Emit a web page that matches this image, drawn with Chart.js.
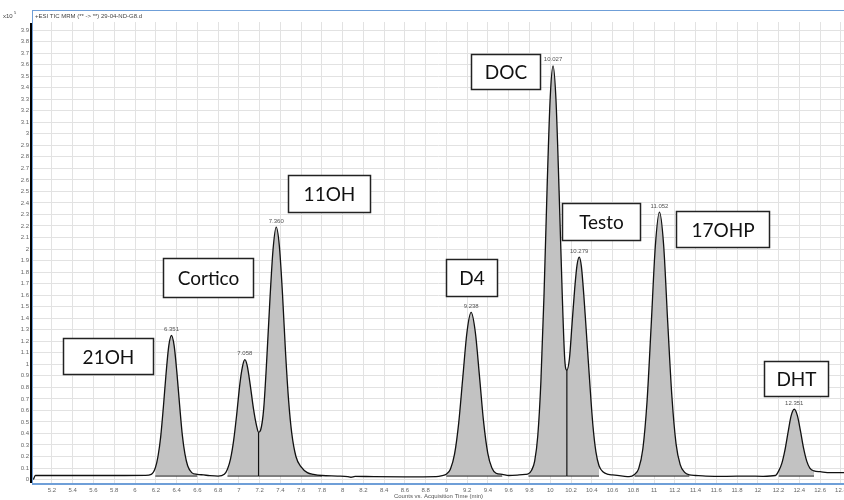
<!DOCTYPE html>
<html>
<head>
<meta charset="utf-8">
<script src="https://cdn.jsdelivr.net/npm/chart.js@4/dist/chart.umd.min.js"></script>
<style>
  html, body { margin: 0; padding: 0; background: #fff; }
  #wrap { width: 844px; height: 500px; position: relative; }
</style>
</head>
<body>
<div id="wrap"><canvas id="chrom"></canvas></div>
<script>
// TIC trace (time in min, counts x10^5)
const traceTime = [
  5.02, 5.04, 5.3, 5.6, 5.9, 6.1, 6.156,
  6.195, 6.221, 6.247, 6.273, 6.299, 6.325, 6.351, 6.377, 6.403, 6.429, 6.455, 6.481, 6.507, 6.546, 6.60,
  6.66, 6.72, 6.8, 6.86,
  6.89, 6.92, 6.95, 6.98, 7.01, 7.035, 7.058, 7.08, 7.11, 7.14, 7.17, 7.19,
  7.21, 7.24, 7.27, 7.30, 7.33, 7.36, 7.39, 7.42, 7.45, 7.48, 7.51, 7.55, 7.60, 7.66, 7.72, 7.80,
  7.95, 8.05, 8.08, 8.12, 8.3, 8.6, 8.9, 8.96,
  8.998, 9.038, 9.078, 9.118, 9.158, 9.198, 9.238, 9.278, 9.318, 9.358, 9.398, 9.438, 9.478, 9.538,
  9.6, 9.7, 9.76,
  9.79, 9.82, 9.85, 9.88, 9.91, 9.94, 9.97, 10.00, 10.027, 10.055, 10.085, 10.115, 10.14, 10.16,
  10.185, 10.21, 10.235, 10.258, 10.279, 10.30, 10.325, 10.35, 10.38, 10.41, 10.44, 10.47,
  10.51, 10.56, 10.6, 10.7, 10.76,
  10.812, 10.852, 10.892, 10.932, 10.972, 11.012, 11.052, 11.092, 11.132, 11.172, 11.212, 11.252, 11.292, 11.34,
  11.4, 11.5, 11.7, 11.9, 12.05, 12.17,
  12.201, 12.231, 12.261, 12.291, 12.321, 12.351, 12.381, 12.411, 12.441, 12.471, 12.501, 12.541,
  12.6, 12.7, 12.83
];
const traceCounts = [
  0.0, 0.035, 0.035, 0.035, 0.035, 0.036, 0.045,
  0.10, 0.20, 0.37, 0.63, 0.92, 1.16, 1.25, 1.16, 0.93, 0.65, 0.39, 0.22, 0.12, 0.06, 0.045,
  0.04, 0.034, 0.03, 0.045,
  0.09, 0.18, 0.34, 0.57, 0.83, 0.98, 1.04, 0.99, 0.82, 0.62, 0.47, 0.41,
  0.43, 0.62, 1.06, 1.57, 2.0, 2.19, 2.03, 1.62, 1.10, 0.68, 0.40, 0.20, 0.11, 0.06, 0.045, 0.035,
  0.03, 0.025, 0.02, 0.028, 0.025, 0.024, 0.026, 0.035,
  0.046, 0.09, 0.22, 0.49, 0.89, 1.28, 1.45, 1.28, 0.90, 0.50, 0.23, 0.10, 0.055, 0.045,
  0.035, 0.04, 0.045,
  0.05, 0.08, 0.16, 0.38, 0.85, 1.60, 2.54, 3.32, 3.59, 3.30, 2.51, 1.62, 1.04, 0.95,
  1.05, 1.35, 1.65, 1.86, 1.93, 1.85, 1.58, 1.25, 0.85, 0.48, 0.24, 0.12,
  0.065, 0.045, 0.04, 0.03, 0.025,
  0.044, 0.095, 0.265, 0.67, 1.33, 2.02, 2.32, 2.04, 1.36, 0.72, 0.31, 0.13, 0.065, 0.04,
  0.035, 0.03, 0.028, 0.03, 0.028, 0.035,
  0.075, 0.14, 0.255, 0.41, 0.555, 0.61, 0.555, 0.42, 0.27, 0.16, 0.10, 0.075,
  0.068, 0.06, 0.06
];

// integrated peaks
const peakNames = ['21OH', 'Cortico', '11OH', 'D4', 'DOC', 'Testo', '17OHP', 'DHT'];
const peakTimes = [6.351, 7.058, 7.360, 9.238, 10.027, 10.279, 11.052, 12.351];
const peakStart = [6.195, 6.89, 7.19, 8.998, 9.79, 10.16, 10.812, 12.201];
const peakEnd = [6.60, 7.19, 7.80, 9.538, 10.16, 10.47, 11.34, 12.541];
const fillBase = 0.03;

// axis ticks
const xTicks = [5.2, 5.4, 5.6, 5.8, 6, 6.2, 6.4, 6.6, 6.8, 7, 7.2, 7.4, 7.6, 7.8, 8, 8.2, 8.4, 8.6, 8.8, 9,
  9.2, 9.4, 9.6, 9.8, 10, 10.2, 10.4, 10.6, 10.8, 11, 11.2, 11.4, 11.6, 11.8, 12, 12.2, 12.4, 12.6, 12.8];
const yTicks = [0, 0.1, 0.2, 0.3, 0.4, 0.5, 0.6, 0.7, 0.8, 0.9, 1, 1.1, 1.2, 1.3, 1.4, 1.5, 1.6, 1.7, 1.8, 1.9,
  2, 2.1, 2.2, 2.3, 2.4, 2.5, 2.6, 2.7, 2.8, 2.9, 3, 3.1, 3.2, 3.3, 3.4, 3.5, 3.6, 3.7, 3.8, 3.9];

// name boxes, in axis units: [left time, right time, top, bottom]
const nameBoxes = [
  [5.31, 6.17, 1.23, 0.92],
  [6.27, 7.14, 1.925, 1.58],
  [7.47, 8.26, 2.645, 2.325],
  [9.0, 9.49, 1.91, 1.595],
  [9.24, 9.90, 3.69, 3.385],
  [10.115, 10.865, 2.40, 2.08],
  [11.21, 12.11, 2.33, 2.015],
  [12.06, 12.68, 1.025, 0.725]
];

const tracePts = traceTime.map((t, i) => ({ x: t, y: traceCounts[i] }));
const valueAt = t => traceCounts[traceTime.indexOf(t)];

const datasets = [{
  label: 'TIC',
  data: tracePts,
  borderColor: '#111',
  borderWidth: 1.3,
  pointRadius: 0,
  cubicInterpolationMode: 'monotone',
  fill: false,
  order: 0
}];

// shaded peak areas
peakStart.forEach((s, i) => {
  datasets.push({
    data: tracePts.filter(p => p.x >= s && p.x <= peakEnd[i]),
    borderWidth: 0,
    pointRadius: 0,
    backgroundColor: '#c2c2c2',
    cubicInterpolationMode: 'monotone',
    fill: { value: fillBase },
    order: 3
  });
  // integration baseline
  datasets.push({
    data: [{ x: s, y: fillBase }, { x: peakEnd[i], y: fillBase }],
    borderColor: '#222',
    borderWidth: 1,
    pointRadius: 0,
    fill: false,
    order: 2
  });
});

// drop lines where two peaks share a split point
peakEnd.forEach((e, i) => {
  if (peakStart[i + 1] === e) {
    datasets.push({
      data: [{ x: e, y: fillBase }, { x: e, y: valueAt(e) }],
      borderColor: '#111',
      borderWidth: 1.2,
      pointRadius: 0,
      fill: false,
      order: 1
    });
  }
});

const frame = {
  id: 'frame',
  afterDatasetsDraw(chart) {
    const { ctx, scales: { x, y } } = chart;
    ctx.save();
    // retention time labels
    ctx.fillStyle = '#555';
    ctx.font = '6px "Liberation Sans", Arial, sans-serif';
    ctx.textAlign = 'center';
    ctx.textBaseline = 'bottom';
    peakTimes.forEach(t => {
      ctx.fillText(t.toFixed(3), x.getPixelForValue(t), y.getPixelForValue(valueAt(t)) - 3);
    });
    // name boxes
    ctx.font = '19px Lato, "Open Sans", sans-serif';
    ctx.textBaseline = 'middle';
    nameBoxes.forEach((b, i) => {
      const l = Math.round(x.getPixelForValue(b[0])) + 0.5;
      const r = Math.round(x.getPixelForValue(b[1])) + 0.5;
      const tp = Math.round(y.getPixelForValue(b[2])) + 0.5;
      const bt = Math.round(y.getPixelForValue(b[3])) + 0.5;
      ctx.fillStyle = '#fff';
      ctx.fillRect(l, tp, r - l, bt - tp);
      ctx.strokeStyle = '#222';
      ctx.lineWidth = 1.5;
      ctx.strokeRect(l, tp, r - l, bt - tp);
      ctx.fillStyle = '#111';
      ctx.fillText(peakNames[i], (l + r) / 2, (tp + bt) / 2 + 1);
    });
    ctx.restore();
  },
  afterDraw(chart) {
    const { ctx, chartArea: a } = chart;
    ctx.save();
    // panel frame
    ctx.strokeStyle = '#6f9fd8';
    ctx.lineWidth = 1;
    ctx.beginPath();
    ctx.moveTo(32, 10.5); ctx.lineTo(844, 10.5);
    ctx.moveTo(32.5, 10); ctx.lineTo(32.5, a.bottom);
    ctx.stroke();
    ctx.lineWidth = 2;
    ctx.beginPath();
    ctx.moveTo(32, a.bottom + 1); ctx.lineTo(844, a.bottom + 1);
    ctx.stroke();
    // y axis line
    ctx.fillStyle = '#000';
    ctx.fillRect(30, 23, 2, a.bottom - 23);
    // header texts
    ctx.fillStyle = '#444';
    ctx.font = '6px "Liberation Sans", Arial, sans-serif';
    ctx.textBaseline = 'middle';
    ctx.textAlign = 'left';
    ctx.fillText('x10', 3, 16);
    ctx.font = '4px "Liberation Sans", Arial, sans-serif';
    ctx.fillText('5', 14, 13);
    ctx.font = '6px "Liberation Sans", Arial, sans-serif';
    ctx.fillText('+ESI TIC MRM (** -> **) 29-04-ND-G8.d', 35, 16);
    ctx.restore();
  }
};

const fmt = v => String(+Number(v).toFixed(1));

new Chart(document.getElementById('chrom'), {
  type: 'line',
  data: { datasets },
  options: {
    responsive: true,
    maintainAspectRatio: false,
    animation: false,
    layout: { padding: { top: 22, left: 0, right: 0, bottom: 0 } },
    plugins: { legend: { display: false }, tooltip: { enabled: false } },
    scales: {
      x: {
        type: 'linear',
        min: 5.017,
        max: 12.83,
        afterBuildTicks: s => { s.ticks = xTicks.map(v => ({ value: v })); },
        afterFit: s => { s.height = 17; s.paddingLeft = 0; s.paddingRight = 0; },
        grid: { color: '#e2e2e2', lineWidth: 1, drawTicks: false },
        border: { display: false },
        ticks: {
          autoSkip: false, maxRotation: 0, padding: 4,
          color: '#666', font: { size: 6, family: '"Liberation Sans", Arial, sans-serif' },
          callback: fmt
        },
        title: {
          display: true,
          text: 'Counts vs. Acquisition Time (min)',
          color: '#555',
          padding: { top: 0, bottom: 0 },
          font: { size: 6, family: '"Liberation Sans", Arial, sans-serif' }
        }
      },
      y: {
        min: -0.03,
        max: 3.97,
        afterBuildTicks: s => { s.ticks = yTicks.map(v => ({ value: v })); },
        afterFit: s => { s.width = 33; s.paddingTop = 0; s.paddingBottom = 0; },
        grid: { color: '#e2e2e2', lineWidth: 1, tickLength: 3, tickColor: '#555' },
        border: { display: false },
        ticks: {
          autoSkip: false, padding: 1,
          color: '#666', font: { size: 6, family: '"Liberation Sans", Arial, sans-serif' },
          callback: fmt
        }
      }
    }
  },
  plugins: [frame]
});
</script>
</body>
</html>
